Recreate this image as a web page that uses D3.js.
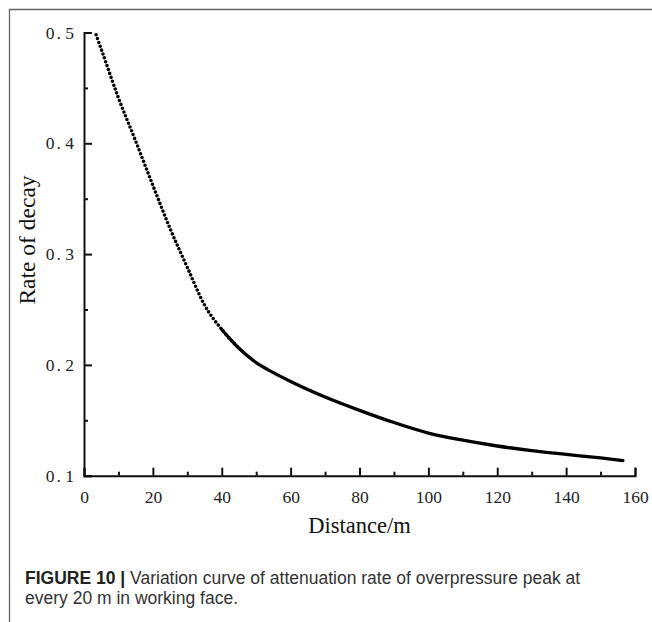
<!DOCTYPE html>
<html>
<head>
<meta charset="utf-8">
<script src="https://cdn.jsdelivr.net/npm/d3@7/dist/d3.min.js"></script>
<style>
  html, body { margin: 0; padding: 0; background: #fff; }
  svg { display: block; }
</style>
</head>
<body>
<svg id="chart" width="652" height="622"></svg>
<script>
// ---- data ----
const distance = [3.5, 5, 10, 15, 20, 25, 30, 35, 40, 45, 50, 55, 60, 70, 80, 90, 100, 110, 120, 130, 140, 150, 156.5];
const decay    = [0.498, 0.485, 0.441, 0.402, 0.362, 0.323, 0.288, 0.254, 0.232, 0.215, 0.202, 0.193, 0.185, 0.171, 0.159, 0.148, 0.1385, 0.132, 0.1268, 0.1227, 0.1193, 0.116, 0.1137];
const xTicks = [0, 20, 40, 60, 80, 100, 120, 140, 160];
const xMinorTicks = [10, 30, 50, 70, 90, 110, 130, 150];
const yTicks = [0.1, 0.2, 0.3, 0.4, 0.5];
const yMinorTicks = [0.15, 0.25, 0.35, 0.45];
const xTitle = "Distance/m";
const yTitle = "Rate of decay";
const captionBold = "FIGURE 10 |";
const captionLine1 = " Variation curve of attenuation rate of overpressure peak at";
const captionLine2 = "every 20 m in working face.";

const svg = d3.select("#chart");

// outer frame (top and left rules)
svg.append("line").attr("x1", 9).attr("y1", 9.5).attr("x2", 652).attr("y2", 9.5)
  .attr("stroke", "#666").attr("stroke-width", 1.3);
svg.append("line").attr("x1", 9.5).attr("y1", 9).attr("x2", 9.5).attr("y2", 622)
  .attr("stroke", "#666").attr("stroke-width", 1.3);

const x = d3.scaleLinear().domain([0, 160]).range([84, 635]);
const y = d3.scaleLinear().domain([0.1, 0.5]).range([475.7, 32.5]);

const tickFont = "'Liberation Serif', 'DejaVu Serif', serif";

// X axis (major + minor)
const gx = svg.append("g").attr("transform", `translate(0,${y(0.1)})`);
gx.append("g").attr("class", "major")
  .call(d3.axisBottom(x).tickValues(xTicks).tickSizeInner(-8).tickSizeOuter(-8).tickPadding(14.5).tickFormat(d3.format("d")));
gx.append("g").attr("class", "minor")
  .call(d3.axisBottom(x).tickValues(xMinorTicks).tickSizeInner(-4).tickSizeOuter(0).tickFormat(""))
  .call(g => g.select(".domain").remove())
  .call(g => g.selectAll("text").remove());

// Y axis (major + minor)
const gy = svg.append("g").attr("transform", `translate(${x(0)},0)`);
gy.append("g").attr("class", "major")
  .call(d3.axisLeft(y).tickValues(yTicks).tickSizeInner(-8).tickSizeOuter(-8).tickPadding(10).tickFormat(d3.format(".1f")));
gy.append("g").attr("class", "minor")
  .call(d3.axisLeft(y).tickValues(yMinorTicks).tickSizeInner(-4).tickSizeOuter(0).tickFormat(""))
  .call(g => g.select(".domain").remove())
  .call(g => g.selectAll("text").remove());

// style axes
svg.selectAll(".domain, .tick line").attr("stroke", "#111").attr("stroke-width", 2);
svg.selectAll(".tick text").attr("font-family", tickFont).attr("font-size", 17.5).attr("fill", "#222");

// y tick labels: emulate wide full-stop spacing "0. 5"
gy.select(".major").selectAll(".tick text").each(function(d) {
  const t = d3.select(this);
  const s = d3.format(".1f")(d);
  t.text(null);
  t.append("tspan").text(s.slice(0, 1));
  t.append("tspan").attr("dx", 2).text(".");
  t.append("tspan").attr("dx", 4.5).text(s.slice(2));
});

// data
const pts = distance.map((d, i) => ({ d, v: decay[i] }));
const line = d3.line().x(p => x(p.d)).y(p => y(p.v)).curve(d3.curveMonotoneX);

svg.append("path").datum(pts.filter(p => p.d <= 45))
  .attr("d", line).attr("fill", "none").attr("stroke", "#000")
  .attr("stroke-width", 3.6).attr("stroke-linecap", "round").attr("stroke-dasharray", "0 4.1");
svg.append("path").datum(pts.filter(p => p.d >= 40))
  .attr("d", line).attr("fill", "none").attr("stroke", "#000")
  .attr("stroke-width", 3.3).attr("stroke-linecap", "round");

// axis titles
svg.append("text").attr("x", x(80)).attr("y", 533)
  .attr("text-anchor", "middle").attr("font-family", tickFont).attr("font-size", 22.5).attr("fill", "#111")
  .text(xTitle);
svg.append("text").attr("transform", "translate(35,240) rotate(-90)")
  .attr("text-anchor", "middle").attr("font-family", tickFont).attr("font-size", 23.5).attr("fill", "#111")
  .text(yTitle);

// caption
const capFont = "'Liberation Sans', Arimo, Helvetica, Arial, sans-serif";
const c1 = svg.append("text").attr("x", 25).attr("y", 584)
  .attr("font-family", capFont).attr("font-size", 17.5).attr("fill", "#333");
c1.append("tspan").attr("font-weight", "bold").attr("fill", "#222").text(captionBold);
c1.append("tspan").text(captionLine1);
svg.append("text").attr("x", 25).attr("y", 604)
  .attr("font-family", capFont).attr("font-size", 17.5).attr("fill", "#333")
  .text(captionLine2);
</script>
</body>
</html>
